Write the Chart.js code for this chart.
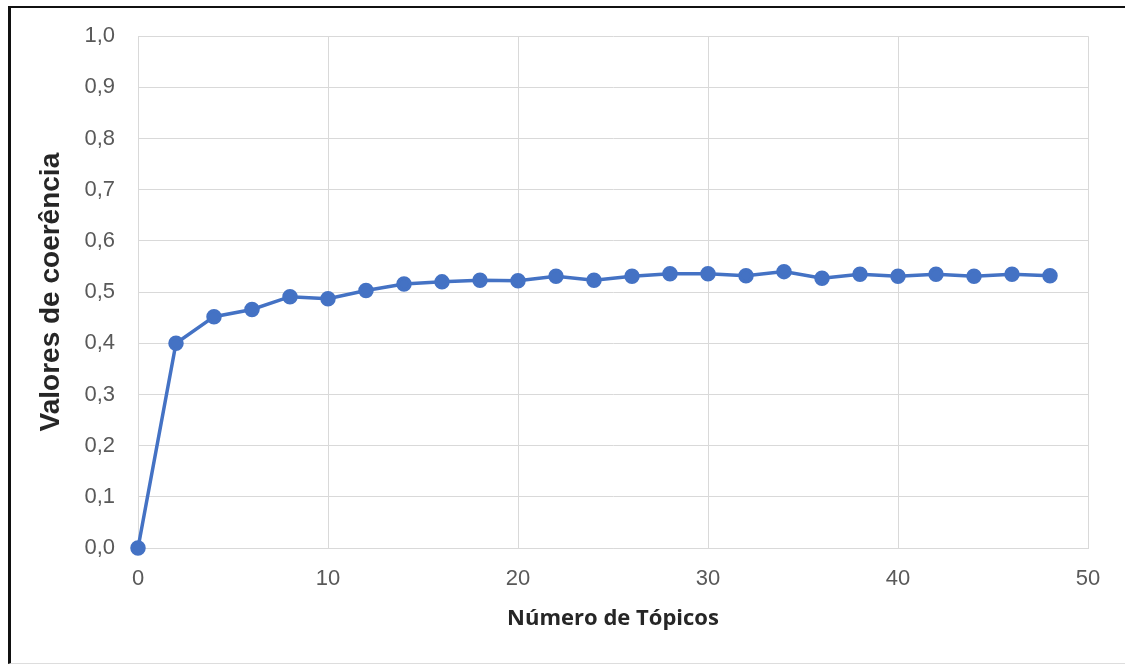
<!DOCTYPE html>
<html>
<head>
<meta charset="utf-8">
<script src="https://cdn.jsdelivr.net/npm/chart.js@4/dist/chart.umd.min.js"></script>
<style>
  html, body { margin: 0; padding: 0; background: #fff; }
  #frame {
    position: absolute; left: 8px; top: 6px;
    width: 1114px; height: 655px;
    border-left: 3px solid #111; border-top: 2px solid #111;
    border-right: 1px solid #e4e4e4; border-bottom: 1px solid #ddd;
  }
  #coherenceChart { position: absolute; left: 0; top: 0; }
</style>
</head>
<body>
<div id="frame"></div>
<canvas id="coherenceChart" width="1125" height="664"></canvas>
<script>
// número de tópicos (eixo x) e valores de coerência
const topics = [0, 2, 4, 6, 8, 10, 12, 14, 16, 18, 20, 22, 24, 26, 28, 30, 32, 34, 36, 38, 40, 42, 44, 46, 48];
const coherence = [0, 0.400, 0.452, 0.466, 0.491, 0.487, 0.503, 0.516, 0.520, 0.523, 0.522, 0.531, 0.523,
                   0.531, 0.536, 0.536, 0.532, 0.540, 0.527, 0.535, 0.531, 0.535, 0.531, 0.535, 0.532];
const xTicks = [0, 10, 20, 30, 40, 50];
const yTicks = [0, 0.1, 0.2, 0.3, 0.4, 0.5, 0.6, 0.7, 0.8, 0.9, 1.0];

const blue = "#4472C4";
const gridCol = "#d9d9d9";
const tickFont = { family: "'Liberation Sans', Arial, sans-serif", size: 22 };

const ctx = document.getElementById("coherenceChart").getContext("2d");
new Chart(ctx, {
  type: "line",
  data: {
    datasets: [{
      label: "Coerência",
      data: topics.map((t, i) => ({ x: t, y: coherence[i] })),
      borderColor: blue,
      backgroundColor: blue,
      borderWidth: 3.5,
      pointRadius: 6,
      pointHoverRadius: 6,
      pointBackgroundColor: blue,
      pointBorderColor: blue,
      tension: 0,
      clip: false
    }]
  },
  options: {
    responsive: false,
    animation: false,
    layout: { padding: { top: 36, right: 37, left: 34, bottom: 0 } },
    plugins: { legend: { display: false }, tooltip: { enabled: false } },
    scales: {
      x: {
        type: "linear",
        min: 0,
        max: 50,
        afterBuildTicks: (s) => { s.ticks = xTicks.map(v => ({ value: v })); },
        afterFit: (s) => { s.height = 116; },
        grid: { color: gridCol, lineWidth: 1, drawTicks: false },
        border: { color: gridCol },
        ticks: { color: "#595959", font: tickFont, padding: 18, maxRotation: 0 },
        title: {
          display: true,
          text: "Número de Tópicos",
          color: "#262626",
          font: { family: "'Open Sans', sans-serif", size: 22, weight: "bold" },
          padding: { top: 0, bottom: 32 }
        }
      },
      y: {
        min: 0,
        max: 1,
        afterBuildTicks: (s) => { s.ticks = yTicks.map(v => ({ value: v })); },
        afterFit: (s) => { s.width = 104; },
        grid: { color: gridCol, lineWidth: 1, drawTicks: false },
        border: { color: gridCol },
        ticks: {
          color: "#595959",
          font: tickFont,
          padding: 23,
          callback: (v) => v.toFixed(1).replace(".", ",")
        },
        title: {
          display: true,
          text: "Valores de coerência",
          color: "#262626",
          font: { family: "'Liberation Sans', Arial, sans-serif", size: 28, weight: "bold" },
          padding: { top: 0, bottom: 0 }
        }
      }
    }
  }
});
</script>
</body>
</html>
